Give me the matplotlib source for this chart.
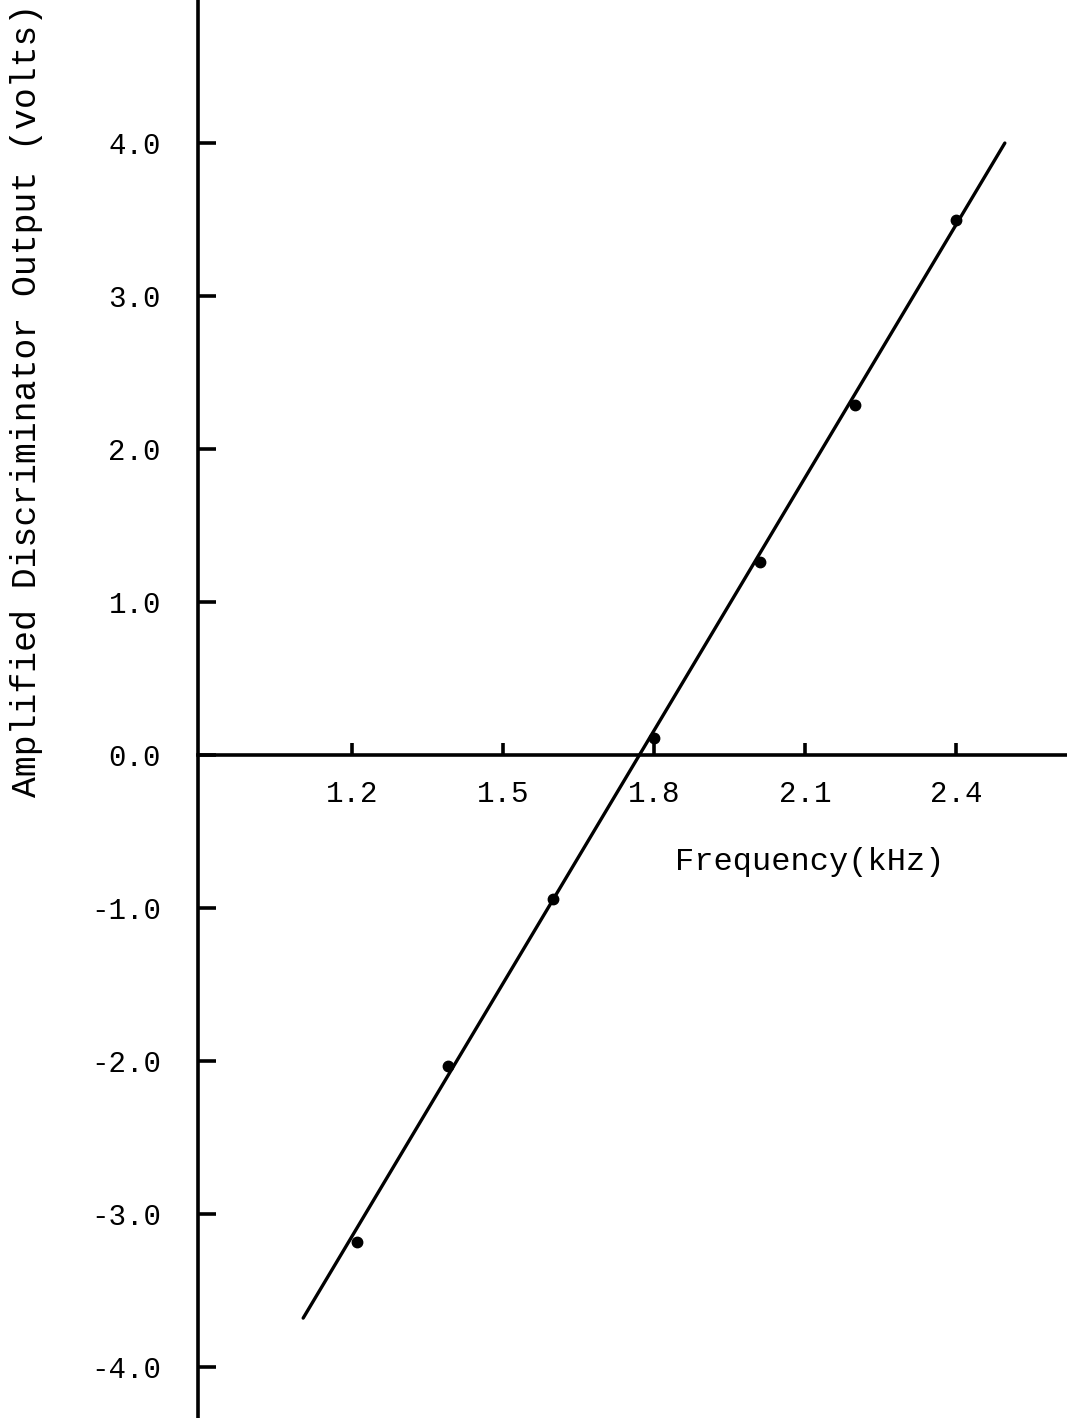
"""Amplified discriminator output vs frequency, typewriter-style plot."""

import matplotlib

matplotlib.use("Agg")
import matplotlib.pyplot as plt  # noqa: E402

# measured points
freq_khz = [1.21, 1.39, 1.60, 1.80, 2.01, 2.20, 2.40]
output_v = [-3.18, -2.03, -0.94, 0.11, 1.26, 2.29, 3.50]

# hand-drawn fit line end points
fit_freq = [1.103, 2.497]
fit_volt = [-3.68, 4.00]

x_ticks = [1.2, 1.5, 1.8, 2.1, 2.4]
x_tick_labels = ["1.2", "1.5", "1.8", "2.1", "2.4"]
y_ticks = [4.0, 3.0, 2.0, 1.0, 0.0, -1.0, -2.0, -3.0, -4.0]
y_tick_labels = ["4.0", "3.0", "2.0", "1.0", "0.0", "-1.0", "-2.0", "-3.0", "-4.0"]

FONT = "Liberation Mono"
X_MIN, X_MAX = 0.5007, 2.6205
Y_AXIS_AT = 0.895

fig = plt.figure(figsize=(10.67, 14.18), dpi=100)
ax = fig.add_axes([0, 0, 1, 1])
ax.set_xlim(X_MIN, X_MAX)
ax.set_ylim(-4.333, 4.935)

ax.plot(fit_freq, fit_volt, color="black", lw=2.4, solid_capstyle="round")
ax.plot(freq_khz, output_v, "o", color="black", ms=7.5)

for side in ("top", "right"):
    ax.spines[side].set_visible(False)
ax.spines["left"].set_position(("data", Y_AXIS_AT))
ax.spines["bottom"].set_position(("data", 0.0))
ax.spines["bottom"].set_bounds(Y_AXIS_AT, X_MAX)
ax.spines["left"].set_linewidth(2.6)
ax.spines["bottom"].set_linewidth(2.6)

ax.set_xticks(x_ticks)
ax.set_xticklabels(x_tick_labels, family=FONT, fontsize=21)
ax.set_yticks(y_ticks)
ax.set_yticklabels(y_tick_labels, family=FONT, fontsize=21)
ax.tick_params(axis="x", direction="in", length=9, width=2.6, pad=18)
ax.tick_params(axis="y", direction="in", length=13, width=2.6, pad=27)

ax.text(0.0253, 0.718, "Amplified Discriminator Output (volts)",
        transform=ax.transAxes, rotation=90, ha="center", va="center",
        family=FONT, fontsize=25)
ax.text(0.759, 0.392, "Frequency(kHz)", transform=ax.transAxes,
        ha="center", va="center", family=FONT, fontsize=23)

fig.savefig("out.png", dpi=100)
